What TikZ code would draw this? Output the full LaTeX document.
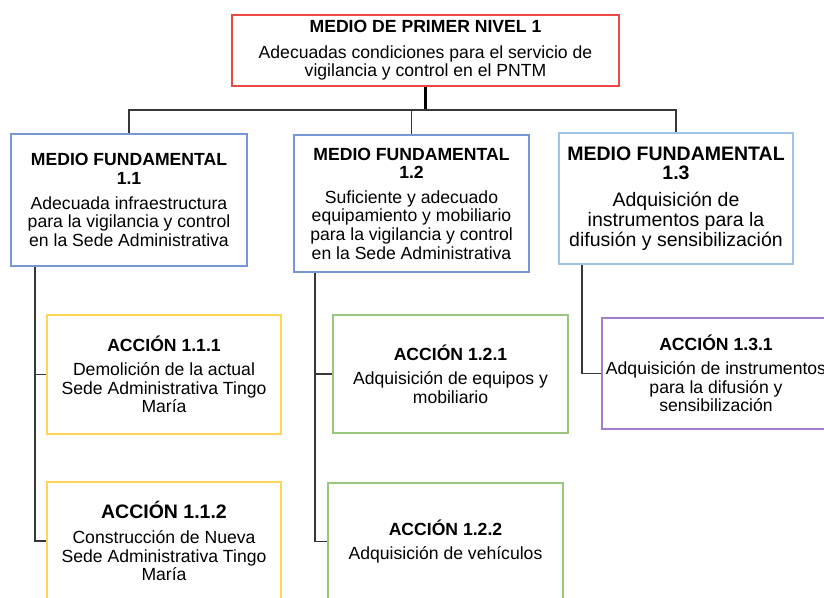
\documentclass[tikz,border=0pt]{standalone}
\usepackage{fontspec}
\setmainfont{Liberation Sans}
\usepackage{tikz}

\definecolor{nivelred}{RGB}{236,70,70}
\definecolor{medioblue}{RGB}{118,150,214}
\definecolor{mediolight}{RGB}{160,196,230}
\definecolor{accyellow}{RGB}{255,212,82}
\definecolor{accgreen}{RGB}{152,198,122}
\definecolor{accpurple}{RGB}{164,124,204}
\definecolor{linkgray}{RGB}{55,55,55}

\begin{document}
\begin{tikzpicture}[x=1pt, y=-1pt,
  box/.style={draw, line width=1.8pt, align=center, inner sep=0pt,
    font=\fontsize{17.6}{18.6}\selectfont},
  link/.style={draw=linkgray, line width=1.8pt},
  trunk/.style={draw=black, line width=3pt}]
  \clip (0,0) rectangle (824,597);

  \node[box, draw=nivelred, minimum width=387pt, minimum height=71pt] (nivel) at (425.5,50.5)
    {\textbf{MEDIO DE PRIMER NIVEL 1}\\[7pt]Adecuadas condiciones para el servicio de\\vigilancia y control en el PNTM};

  \node[box, draw=medioblue, minimum width=236pt, minimum height=132pt] (mf11) at (129,200)
    {\textbf{MEDIO FUNDAMENTAL}\\\textbf{1.1}\\[6pt]Adecuada infraestructura\\para la vigilancia y control\\en la Sede Administrativa};
  \node[box, draw=medioblue, minimum width=235pt, minimum height=137pt] (mf12) at (411.5,203.5)
    {\textbf{MEDIO FUNDAMENTAL}\\\textbf{1.2}\\[6pt]Suficiente y adecuado\\equipamiento y mobiliario\\para la vigilancia y control\\en la Sede Administrativa};
  \node[box, draw=mediolight, minimum width=234pt, minimum height=131pt,
    font=\fontsize{19.5}{19.8}\selectfont] (mf13) at (676,198.5)
    {\textbf{MEDIO FUNDAMENTAL}\\\textbf{1.3}\\[7pt]Adquisición de\\instrumentos para la\\difusión y sensibilización};

  \node[box, draw=accyellow, minimum width=234pt, minimum height=119pt] (a111) at (164,374.5)
    {\textbf{ACCIÓN 1.1.1}\\[5pt]Demolición de la actual\\Sede Administrativa Tingo\\María};
  \node[box, draw=accyellow, minimum width=234pt, minimum height=118pt] (a112) at (164,541)
    {{\fontsize{19.5}{19.5}\selectfont\textbf{ACCIÓN 1.1.2}}\\[7pt]Construcción de Nueva\\Sede Administrativa Tingo\\María};
  \node[box, draw=accgreen, minimum width=235pt, minimum height=118pt] (a121) at (450.5,374)
    {\textbf{ACCIÓN 1.2.1}\\[6pt]Adquisición de equipos y\\mobiliario};
  \node[box, draw=accgreen, minimum width=235pt, minimum height=117pt] (a122) at (445.5,541.5)
    {\textbf{ACCIÓN 1.2.2}\\[6pt]Adquisición de vehículos};
  \node[box, draw=accpurple, minimum width=228pt, minimum height=111pt] (a131) at (716,373.5)
    {\textbf{ACCIÓN 1.3.1}\\[5pt]Adquisición de instrumentos\\para la difusión y\\sensibilización};

  \coordinate (bus) at (425.5,110);
  \draw[trunk] (nivel.south) -- (bus);
  \draw[link] (mf11.north) |- (bus) -| (mf13.north);
  \draw[link] (mf12.north) -- (mf12.north |- bus);

  \draw[link] ([xshift=25pt]mf11.south west) |- (a111.west);
  \draw[link] ([xshift=25pt]mf11.south west) |- (a112.west);
  \draw[link] ([xshift=22pt]mf12.south west) |- (a121.west);
  \draw[link] ([xshift=22pt]mf12.south west) |- (a122.west);
  \draw[link] ([xshift=24pt]mf13.south west) |- (a131.west);
\end{tikzpicture}
\end{document}
